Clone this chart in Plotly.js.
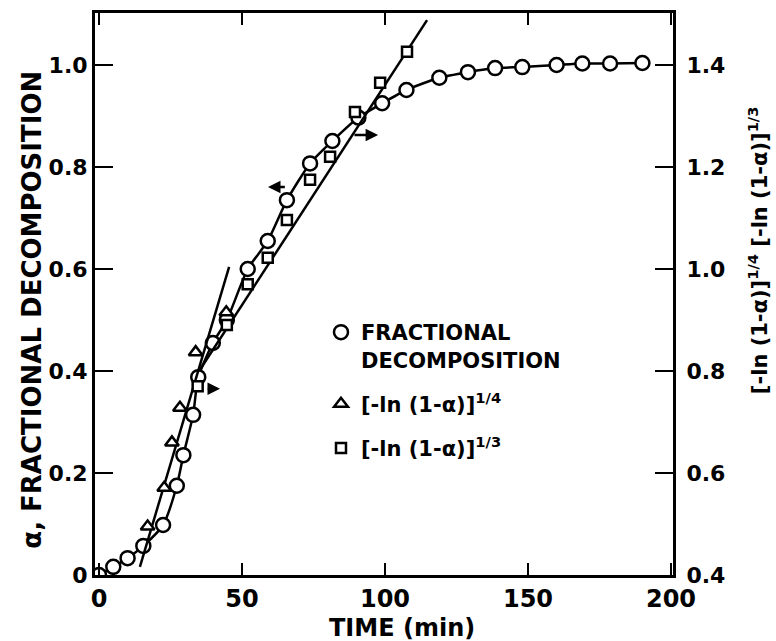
<!DOCTYPE html>
<html>
<head>
<meta charset="utf-8">
<script src="https://cdn.plot.ly/plotly-3.0.1.min.js"></script>
<style>html,body{margin:0;padding:0;background:#fff;}</style>
</head>
<body>
<div id="chart" style="width:776px;height:641px;"></div>
<script>
// ---- data ----
const timeCircle = [0, 5, 10, 15.5, 22.4, 27.2, 29.5, 32.9, 34.7, 39.8, 44.7, 52, 59, 65.7, 73.8, 81.6, 90.7, 99, 107.5, 119, 129, 138.5, 148, 160, 169, 178.7, 190];
const alphaCircle = [0, 0.016, 0.033, 0.057, 0.098, 0.175, 0.235, 0.314, 0.388, 0.455, 0.50, 0.60, 0.655, 0.735, 0.807, 0.851, 0.897, 0.925, 0.951, 0.975, 0.986, 0.994, 0.996, 1.0, 1.003, 1.003, 1.004];

const timeTriangle = [17, 22.8, 25.5, 28.3, 33.8, 44.5];
const valueTriangle = [0.495, 0.571, 0.66, 0.728, 0.837, 0.915];

const timeSquare = [34.5, 44.7, 52, 59, 65.7, 73.8, 80.8, 89.5, 98.3, 107.7];
const valueSquare = [0.77, 0.89, 0.97, 1.022, 1.096, 1.175, 1.22, 1.308, 1.365, 1.426];

const fitQuarterTime = [14.3, 45.5];
const fitQuarterValue = [0.416, 1.004];
const fitThirdTime = [35, 114.7];
const fitThirdValue = [0.80, 1.488];

const xTickVals = [0, 50, 100, 150, 200];
const xTickText = ['0', '50', '100', '150', '200'];
const yTickVals = [0, 0.2, 0.4, 0.6, 0.8, 1.0];
const yTickText = ['0', '0.2', '0.4', '0.6', '0.8', '1.0'];
const y2TickVals = [0.4, 0.6, 0.8, 1.0, 1.2, 1.4];
const y2TickText = ['0.4', '0.6', '0.8', '1.0', '1.2', '1.4'];

const legendNames = ['FRACTIONAL<br>DECOMPOSITION', '[-ln (1-α)]<sup>1/4</sup>', '[-ln (1-α)]<sup>1/3</sup>'];

// ---- styling ----
const FONT = 'DejaVu Sans';
const K = '#000';
const LW = 2.5;

const traces = [
  {x: timeCircle, y: alphaCircle, mode: 'lines', line: {color: K, width: LW, shape: 'spline', smoothing: 0.6}, showlegend: false, hoverinfo: 'skip'},
  {x: fitQuarterTime, y: fitQuarterValue, yaxis: 'y2', mode: 'lines', line: {color: K, width: LW}, showlegend: false, hoverinfo: 'skip'},
  {x: fitThirdTime, y: fitThirdValue, yaxis: 'y2', mode: 'lines', line: {color: K, width: LW}, showlegend: false, hoverinfo: 'skip'},
  {x: timeCircle, y: alphaCircle, mode: 'markers', name: legendNames[0], legendgroup: 'a',
   marker: {symbol: 'circle', size: 14, color: '#fff', line: {color: K, width: LW}}},
  {x: timeTriangle, y: valueTriangle, yaxis: 'y2', mode: 'markers', name: legendNames[1], legendgroup: 'b',
   marker: {symbol: 'triangle-up', size: 12, color: '#fff', line: {color: K, width: LW}}},
  {x: timeSquare, y: valueSquare, yaxis: 'y2', mode: 'markers', name: legendNames[2], legendgroup: 'c',
   marker: {symbol: 'square', size: 10, color: '#fff', line: {color: K, width: LW}}}
];

const axisCommon = {
  showgrid: false, zeroline: false, showline: true, linecolor: K, linewidth: 3,
  ticks: 'inside', tickcolor: K, tickwidth: 2.5,
  tickfont: {family: FONT, size: 22, color: K, weight: 'bold'},
  tickmode: 'array', fixedrange: true
};

const layout = {
  width: 776, height: 641,
  margin: {l: 95, r: 103, t: 13, b: 66, pad: 0},
  paper_bgcolor: '#fff', plot_bgcolor: '#fff',
  font: {family: FONT, color: K, weight: 'bold'},
  xaxis: Object.assign({}, axisCommon, {
    range: [-1.4, 200.7], tickvals: xTickVals, ticktext: xTickText, ticklen: 12, mirror: 'ticks',
    tickfont: {family: FONT, size: 24, color: K, weight: 'bold'}
  }),
  yaxis: Object.assign({}, axisCommon, {
    range: [0, 1.102], tickvals: yTickVals, ticktext: yTickText, ticklen: 18
  }),
  yaxis2: Object.assign({}, axisCommon, {
    range: [0.4, 1.502], tickvals: y2TickVals, ticktext: y2TickText, ticklen: 18,
    overlaying: 'y', side: 'right', ticklabelstandoff: 6
  }),
  showlegend: true,
  legend: {
    x: 0.391, y: 0.468, xanchor: 'left', yanchor: 'top', bgcolor: 'rgba(0,0,0,0)',
    font: {family: FONT, size: 21, color: K, weight: 'bold'}, valign: 'top',
    tracegroupgap: 14, traceorder: 'grouped', itemclick: false
  },
  annotations: [
    {xref: 'paper', yref: 'paper', x: -0.109, y: 0.472, xanchor: 'center', yanchor: 'middle',
     text: 'α, FRACTIONAL DECOMPOSITION', textangle: -90,
     showarrow: false, font: {family: FONT, size: 26, color: K, weight: 'bold'}},
    {xref: 'paper', yref: 'paper', x: 0.531, y: -0.094, xanchor: 'center', yanchor: 'middle',
     text: 'TIME (min)',
     showarrow: false, font: {family: FONT, size: 24, color: K, weight: 'bold'}},
    {xref: 'paper', yref: 'paper', x: 1.147, y: 0.578, xanchor: 'center', yanchor: 'middle',
     text: '[-ln (1-α)]<sup>1/4</sup> [-ln (1-α)]<sup>1/3</sup>', textangle: -90,
     showarrow: false, font: {family: FONT, size: 21, color: K, weight: 'bold'}},
    {xref: 'x', yref: 'y', x: 59.1, y: 0.761, axref: 'x', ayref: 'y', ax: 65.5, ay: 0.761, text: '',
     showarrow: true, arrowhead: 2, arrowsize: 1, arrowwidth: 2.5, arrowcolor: K},
    {xref: 'x', yref: 'y', x: 97.6, y: 0.863, axref: 'x', ayref: 'y', ax: 88.8, ay: 0.863, text: '',
     showarrow: true, arrowhead: 2, arrowsize: 1, arrowwidth: 2.5, arrowcolor: K},
    {xref: 'x', yref: 'y', x: 42.3, y: 0.365, axref: 'x', ayref: 'y', ax: 37.5, ay: 0.365, text: '',
     showarrow: true, arrowhead: 2, arrowsize: 1, arrowwidth: 2.5, arrowcolor: K}
  ]
};

Plotly.newPlot('chart', traces, layout, {displayModeBar: false, staticPlot: true});
</script>
</body>
</html>
